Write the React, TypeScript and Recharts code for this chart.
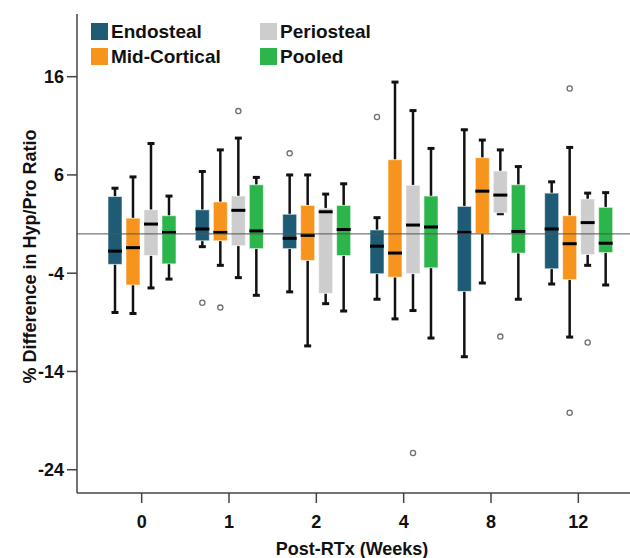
import React from 'react';
import { ComposedChart, Bar, XAxis, YAxis, ReferenceLine, Legend, Label } from 'recharts';

// Post-RTx week categories
const weeks = ['0', '1', '2', '4', '8', '12'];

// Box statistics per week: [min whisker, Q1, median, Q3, max whisker]
const endosteal = [
  [-8.0, -3.1, -1.75, 3.8, 4.65],
  [-1.3, -0.7, 0.5, 2.45, 6.35],
  [-5.9, -1.5, -0.45, 2.0, 6.0],
  [-6.65, -4.05, -1.25, 0.4, 1.65],
  [-12.5, -5.85, 0.15, 2.8, 10.6],
  [-5.1, -3.55, 0.5, 4.15, 5.3],
];
const midCortical = [
  [-8.1, -5.2, -1.4, 1.6, 5.8],
  [-3.2, -0.7, 0.15, 3.25, 8.55],
  [-11.4, -2.7, -0.15, 2.9, 6.0],
  [-8.65, -4.4, -1.95, 7.55, 15.45],
  [-5.0, 0.05, 4.35, 7.75, 9.55],
  [-10.5, -4.65, -1.0, 1.85, 8.8],
];
const periosteal = [
  [-5.5, -2.2, 1.0, 2.45, 9.2],
  [-4.45, -1.2, 2.4, 3.85, 9.75],
  [-7.1, -6.05, 2.25, 2.6, 4.05],
  [-7.8, -4.05, 0.9, 4.95, 12.55],
  [2.05, 2.15, 3.95, 6.4, 8.55],
  [-3.2, -2.1, 1.15, 3.55, 4.15],
];
const pooled = [
  [-4.6, -3.05, 0.15, 1.85, 3.85],
  [-6.25, -1.5, 0.3, 5.0, 5.75],
  [-7.85, -2.2, 0.45, 2.9, 5.1],
  [-10.6, -3.45, 0.7, 3.85, 8.7],
  [-6.65, -1.95, 0.25, 5.0, 6.85],
  [-5.2, -1.9, -0.95, 2.7, 4.2],
];

// Outliers per week
const endostealOutliers = [[], [-7.0], [8.2], [11.9], [], []];
const midCorticalOutliers = [[], [-7.5], [], [], [], [14.8, -18.2]];
const periostealOutliers = [[], [12.5], [], [-22.3], [-10.45], [-11.05]];
const pooledOutliers = [[], [], [], [], [], []];

const yTicks = [16, 6, -4, -14, -24];
const yDomain = [-26.37, 22.38];

const FONT = '"Liberation Sans", Arial, Helvetica, sans-serif';

const seriesDefs = [
  { key: 'endosteal', name: 'Endosteal', color: '#1d5c74', stats: endosteal, outliers: endostealOutliers },
  { key: 'midCortical', name: 'Mid-Cortical', color: '#f7941e', stats: midCortical, outliers: midCorticalOutliers },
  { key: 'periosteal', name: 'Periosteal', color: '#cdcdcd', stats: periosteal, outliers: periostealOutliers },
  { key: 'pooled', name: 'Pooled', color: '#2cb54a', stats: pooled, outliers: pooledOutliers },
];

const data = weeks.map((w, i) => {
  const row: any = { week: w };
  seriesDefs.forEach((s) => {
    row[s.key] = [s.stats[i][0], s.stats[i][4]];
  });
  return row;
});

const makeBoxShape = (s: any) => (props: any) => {
  const { x, y, width, height, payload } = props;
  const idx = weeks.indexOf(payload.week);
  if (idx < 0) return <g />;
  const [mn, q1, md, q3, mx] = s.stats[idx];
  const top = Math.min(y, y + height);
  const bottom = Math.max(y, y + height);
  const k = (bottom - top) / (mx - mn);
  const py = (v: number) => top + (mx - v) * k;
  const cx = x + width / 2;
  const capHalf = 3.5;
  const outs: number[] = s.outliers[idx];
  return (
    <g>
      <line x1={cx} x2={cx} y1={py(mx)} y2={py(q3)} stroke="#111" strokeWidth={2.5} />
      <line x1={cx} x2={cx} y1={py(q1)} y2={py(mn)} stroke="#111" strokeWidth={2.5} />
      <line x1={cx - capHalf} x2={cx + capHalf} y1={py(mx)} y2={py(mx)} stroke="#111" strokeWidth={3} />
      <line x1={cx - capHalf} x2={cx + capHalf} y1={py(mn)} y2={py(mn)} stroke="#111" strokeWidth={3} />
      <rect
        x={x}
        y={py(q3)}
        width={width}
        height={py(q1) - py(q3)}
        fill={s.color}
        stroke="rgba(255,255,255,0.55)"
        strokeWidth={1}
      />
      <line x1={x} x2={x + width} y1={py(md)} y2={py(md)} stroke="#000" strokeWidth={3} />
      {outs.map((v, j) => (
        <circle key={j} cx={cx} cy={py(v)} r={2.6} fill="#fff" stroke="#707070" strokeWidth={1.3} />
      ))}
    </g>
  );
};

const LegendContent = () => (
  <div
    style={{
      display: 'grid',
      gridTemplateColumns: '169px 169px',
      fontFamily: FONT,
      fontWeight: 'bold',
      fontSize: 19,
      color: '#111',
    }}
  >
    {[seriesDefs[0], seriesDefs[2], seriesDefs[1], seriesDefs[3]].map((s) => (
      <div key={s.key} style={{ display: 'flex', alignItems: 'center', height: 25 }}>
        <span
          style={{ display: 'inline-block', width: 17, height: 17, background: s.color, marginRight: 3 }}
        />
        <span style={{ lineHeight: '25px' }}>{s.name}</span>
      </div>
    ))}
  </div>
);

const YLabel = (props: any) => {
  const vb = props.viewBox || { x: 0, y: 14, width: 77, height: 479 };
  const cy = vb.y + vb.height / 2 + 3;
  return (
    <text
      transform={`translate(${vb.x + 36}, ${cy}) rotate(-90)`}
      textAnchor="middle"
      fontFamily={FONT}
      fontWeight="bold"
      fontSize={18}
      fill="#111"
    >
      % Difference in Hyp/Pro Ratio
    </text>
  );
};

const XLabel = (props: any) => {
  const vb = props.viewBox || { x: 77, y: 493, width: 566, height: 65 };
  return (
    <text
      x={vb.x + vb.width / 2 - 8}
      y={vb.y + vb.height - 3}
      textAnchor="middle"
      fontFamily={FONT}
      fontWeight="bold"
      fontSize={18}
      fill="#111"
    >
      Post-RTx (Weeks)
    </text>
  );
};

const tickStyle = { fontFamily: FONT, fontWeight: 'bold', fontSize: 18, fill: '#111' };

export default function App() {
  return (
    <div style={{ position: 'absolute', left: 0, top: 0, width: 630, height: 558, overflow: 'hidden', background: '#fff' }}>
      <ComposedChart
        width={650}
        height={558}
        data={data}
        margin={{ top: 14, right: 7, bottom: 0, left: 0 }}
        barSize={14}
        barGap={4}
      >
        <XAxis
          dataKey="week"
          type="category"
          padding={{ left: 21, right: 21 }}
          height={65}
          tick={tickStyle}
          tickSize={10}
          tickMargin={12}
          axisLine={{ stroke: '#444', strokeWidth: 1.5 }}
          tickLine={{ stroke: '#444', strokeWidth: 1.5 }}
        >
          <Label content={<XLabel />} />
        </XAxis>
        <XAxis
          xAxisId="top"
          dataKey="week"
          orientation="top"
          height={0}
          tick={false}
          tickLine={false}
          axisLine={{ stroke: '#444', strokeWidth: 1.5 }}
        />
        <YAxis
          type="number"
          domain={yDomain}
          ticks={yTicks}
          width={77}
          tick={tickStyle}
          tickSize={10}
          tickMargin={3}
          axisLine={{ stroke: '#444', strokeWidth: 1.5 }}
          tickLine={{ stroke: '#444', strokeWidth: 1.5 }}
          allowDataOverflow
        >
          <Label content={<YLabel />} />
        </YAxis>
        <ReferenceLine y={0} stroke="#555" strokeWidth={1} />
        {seriesDefs.map((s) => (
          <Bar
            key={s.key}
            dataKey={s.key}
            name={s.name}
            fill={s.color}
            shape={makeBoxShape(s)}
            isAnimationActive={false}
          />
        ))}
        <Legend
          layout="horizontal"
          verticalAlign="middle"
          align="center"
          wrapperStyle={{ top: 19, left: 91, width: 345 }}
          content={<LegendContent />}
        />
      </ComposedChart>
    </div>
  );
}
